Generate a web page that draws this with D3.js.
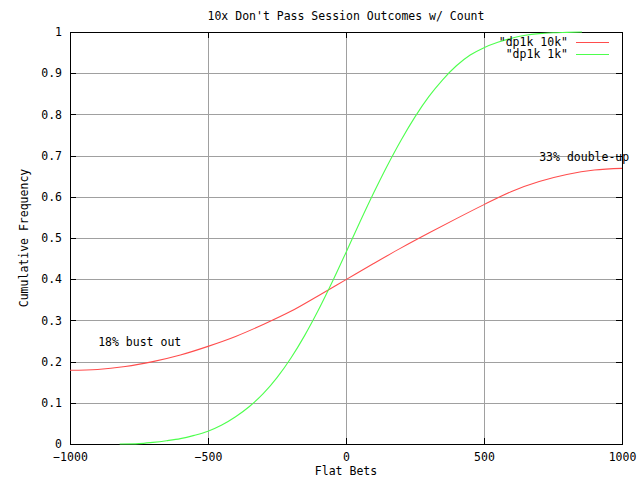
<!DOCTYPE html>
<html><head><meta charset="utf-8">
<script src="https://cdn.jsdelivr.net/npm/d3@7"></script>
<style>
body{margin:0;background:#fff;}
text{font-family:"DejaVu Sans Mono","Liberation Mono",monospace;font-size:11.5px;fill:#000;}
</style></head>
<body>
<svg id="c" width="640" height="480"></svg>
<script>
const title = "10x Don't Pass Session Outcomes w/ Count";
const xLabel = "Flat Bets";
const yLabel = "Cumulative Frequency";
const xTicks = [-1000, -500, 0, 500, 1000];
const yTicks = [0, 0.1, 0.2, 0.3, 0.4, 0.5, 0.6, 0.7, 0.8, 0.9, 1];
const seriesNames = ['"dp1k 10k"', '"dp1k 1k"'];
const seriesColors = ["#ff4d4d", "#4dff4d"];

const x10k = [-1000,-900,-800,-700,-600,-500,-400,-300,-200,-100,0,100,200,300,400,500,600,700,800,900,1000];
const y10k = [0.179,0.181,0.188,0.200,0.216,0.237,0.261,0.290,0.322,0.360,0.399,0.438,0.476,0.512,0.547,0.581,0.613,0.637,0.654,0.665,0.669];

const x1k = [-820,-750,-700,-650,-600,-550,-500,-450,-400,-350,-300,-250,-200,-150,-100,-50,0,50,100,150,200,250,300,350,400,450,500,550,600,650,700,750,800,855];
const y1k = [0,0.001,0.004,0.008,0.013,0.021,0.031,0.046,0.066,0.091,0.122,0.161,0.208,0.263,0.325,0.393,0.465,0.538,0.609,0.676,0.738,0.794,0.843,0.884,0.918,0.944,0.962,0.975,0.985,0.992,0.996,0.998,0.999,1.0];

const annotations = [
  {text: "18% bust out", x: -898, y: 0.248},
  {text: "33% double-up", x: 700, y: 0.697}
];

const L = 70, R = 622, T = 32, B = 444;
const svg = d3.select("#c");
const xs = d3.scaleLinear().domain([-1000, 1000]).range([L, R]);
const ys = d3.scaleLinear().domain([0, 1]).range([B, T]);

// grid
const g = svg.append("g").attr("shape-rendering", "crispEdges");
g.selectAll(".gx").data(xTicks.slice(1, -1)).join("line")
  .attr("x1", d => Math.round(xs(d)) + 0.5).attr("x2", d => Math.round(xs(d)) + 0.5)
  .attr("y1", T).attr("y2", B).attr("stroke", "#a0a0a0");
g.selectAll(".gy").data(yTicks.slice(1, -1)).join("line")
  .attr("y1", d => Math.round(ys(d)) + 0.5).attr("y2", d => Math.round(ys(d)) + 0.5)
  .attr("x1", L).attr("x2", R).attr("stroke", "#a0a0a0");

// axes with inward ticks
const axB = d3.axisBottom(xs).tickValues(xTicks).tickSize(-6).tickPadding(9).tickFormat(d3.format("d"));
const axL = d3.axisLeft(ys).tickValues(yTicks).tickSize(-6).tickPadding(8).tickFormat(d => d === 0 ? "0" : d === 1 ? "1" : d3.format(".1f")(d));
const axT = d3.axisTop(xs).tickValues(xTicks).tickSize(-6).tickFormat("");
const axR = d3.axisRight(ys).tickValues(yTicks).tickSize(-6).tickFormat("");
function style(sel){
  sel.attr("shape-rendering","crispEdges").attr("font-family", null).attr("font-size", null);
  sel.selectAll("path").attr("stroke","#000");
  sel.selectAll("line").attr("stroke","#000");
  sel.selectAll("text").attr("fill","#000");
}
svg.append("g").attr("transform", `translate(0,${B})`).call(axB).call(style);
svg.append("g").attr("transform", `translate(${L},0)`).call(axL).call(style);
svg.append("g").attr("transform", `translate(0,${T})`).call(axT).call(style);
svg.append("g").attr("transform", `translate(${R},0)`).call(axR).call(style);
svg.selectAll(".domain").attr("stroke-width", 1.3);

// lines
const line = d3.line().x(d => xs(d[0])).y(d => ys(d[1])).curve(d3.curveMonotoneX);
const data = [d3.zip(x10k, y10k), d3.zip(x1k, y1k)];
svg.selectAll(".series").data(data).join("path")
  .attr("d", line).attr("fill", "none")
  .attr("stroke", (d, i) => seriesColors[i]).attr("stroke-width", 1.1);

// legend
seriesNames.forEach((n, i) => {
  const yy = 41.5 + i * 12.5;
  svg.append("text").attr("x", 568).attr("y", yy).attr("dy", "0.35em").attr("text-anchor", "end").text(n);
  svg.append("line").attr("x1", 576).attr("x2", 609).attr("y1", Math.round(yy) + 0.5).attr("y2", Math.round(yy) + 0.5)
    .attr("stroke", seriesColors[i]).attr("shape-rendering", "crispEdges");
});

// annotations
svg.selectAll(".ann").data(annotations).join("text")
  .attr("x", d => xs(d.x)).attr("y", d => ys(d.y)).attr("dy", "0.35em").text(d => d.text);

// titles
svg.append("text").attr("x", 346).attr("y", 16).attr("dy", "0.35em").attr("text-anchor", "middle").text(title);
svg.append("text").attr("x", 346).attr("y", 471).attr("dy", "0.35em").attr("text-anchor", "middle").text(xLabel);
svg.append("text").attr("transform", "translate(24,238) rotate(-90)").attr("dy", "0.35em").attr("text-anchor", "middle").text(yLabel);
</script>
</body></html>
